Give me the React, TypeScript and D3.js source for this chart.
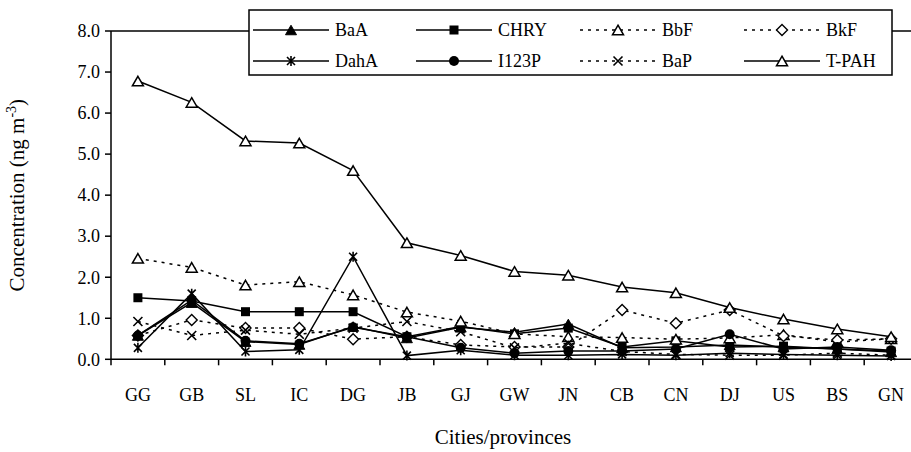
import React from "react";
import * as d3 from "d3";

// Sampling sites along the horizontal axis
const categories = ["GG", "GB", "SL", "IC", "DG", "JB", "GJ", "GW", "JN", "CB", "CN", "DJ", "US", "BS", "GN"];

// Concentrations, ng m-3
const baA = [0.58, 1.38, 0.43, 0.36, 0.8, 0.52, 0.78, 0.66, 0.86, 0.28, 0.3, 0.35, 0.3, 0.25, 0.18];
const chry = [1.5, 1.42, 1.16, 1.16, 1.16, 0.55, 0.8, 0.62, 0.76, 0.3, 0.45, 0.3, 0.32, 0.25, 0.2];
const bbF = [2.46, 2.24, 1.81, 1.89, 1.57, 1.15, 0.93, 0.62, 0.55, 0.53, 0.49, 0.52, 0.6, 0.42, 0.5];
const bkF = [0.58, 0.96, 0.76, 0.76, 0.49, 0.55, 0.35, 0.3, 0.3, 1.2, 0.88, 1.2, 0.57, 0.47, 0.5];
const dahA = [0.28, 1.6, 0.19, 0.23, 2.5, 0.09, 0.22, 0.1, 0.1, 0.12, 0.1, 0.15, 0.12, 0.1, 0.08];
const i123P = [0.58, 1.44, 0.45, 0.38, 0.78, 0.55, 0.28, 0.15, 0.2, 0.2, 0.25, 0.61, 0.25, 0.3, 0.22];
const baP = [0.92, 0.58, 0.71, 0.61, 0.76, 0.92, 0.67, 0.28, 0.39, 0.19, 0.12, 0.1, 0.1, 0.15, 0.1];
const tPAH = [6.78, 6.26, 5.32, 5.27, 4.6, 2.84, 2.53, 2.14, 2.05, 1.76, 1.62, 1.26, 0.98, 0.74, 0.55];

const yTickValues = [0, 1, 2, 3, 4, 5, 6, 7, 8];

type Marker = "triFill" | "square" | "triOpen" | "diamond" | "star" | "circle" | "cross";

const series: { name: string; values: number[]; dotted: boolean; marker: Marker }[] = [
  { name: "BaA", values: baA, dotted: false, marker: "triFill" },
  { name: "CHRY", values: chry, dotted: false, marker: "square" },
  { name: "BbF", values: bbF, dotted: true, marker: "triOpen" },
  { name: "BkF", values: bkF, dotted: true, marker: "diamond" },
  { name: "DahA", values: dahA, dotted: false, marker: "star" },
  { name: "I123P", values: i123P, dotted: false, marker: "circle" },
  { name: "BaP", values: baP, dotted: true, marker: "cross" },
  { name: "T-PAH", values: tPAH, dotted: false, marker: "triOpen" },
];

const W = 911;
const H = 452;
const plotLeft = 111;
const bandStep = 53.8;
const plotTop = 31;
const plotBottom = 359.3;
const FONT = "'Liberation Serif', 'Times New Roman', serif";

function MarkerShape({ kind, cx, cy }: { kind: Marker; cx: number; cy: number }) {
  const t = `translate(${cx},${cy})`;
  switch (kind) {
    case "triFill":
    case "triOpen": {
      const s = 11;
      const h = s * 0.866;
      const d = `M0,${-h / 2}L${s / 2},${h / 2}L${-s / 2},${h / 2}Z`;
      return kind === "triFill" ? (
        <path d={d} transform={t} fill="#000" stroke="#000" strokeWidth={1} />
      ) : (
        <path d={d} transform={t} fill="#fff" stroke="#000" strokeWidth={1.5} strokeLinejoin="miter" />
      );
    }
    case "square":
      return <rect x={cx - 4.5} y={cy - 4.5} width={9} height={9} fill="#000" />;
    case "circle":
      return <circle cx={cx} cy={cy} r={5} fill="#000" />;
    case "diamond": {
      const r = 5.5;
      return (
        <path d={`M0,${-r}L${r},0L0,${r}L${-r},0Z`} transform={t} fill="#fff" stroke="#000" strokeWidth={1.4} />
      );
    }
    case "cross": {
      const r = 4.5;
      return (
        <path d={`M${-r},${-r}L${r},${r}M${-r},${r}L${r},${-r}`} transform={t} stroke="#000" strokeWidth={1.6} fill="none" />
      );
    }
    case "star": {
      const r = 4;
      return (
        <path
          d={`M${-r},${-r}L${r},${r}M${-r},${r}L${r},${-r}M0,${-r - 1}L0,${r + 1}`}
          transform={t}
          stroke="#000"
          strokeWidth={1.6}
          fill="none"
        />
      );
    }
  }
  return null;
}

export default function App() {
  const x = d3
    .scaleBand<string>()
    .domain(categories)
    .range([plotLeft, plotLeft + bandStep * categories.length]);
  const y = d3.scaleLinear().domain([0, 8]).range([plotBottom, plotTop]);
  const cx = (i: number) => (x(categories[i]) as number) + x.bandwidth() / 2;

  const line = d3
    .line<number>()
    .x((_, i) => cx(i))
    .y((d) => y(d));

  const bandEdges = categories.map((c) => x(c) as number).concat([plotLeft + bandStep * categories.length]);

  // Legend geometry
  const legendX = 249;
  const legendY = 10;
  const legendW = 643;
  const legendH = 65;
  const colStarts = [253, 416, 580, 744];
  const rowYs = [30, 61];
  const sampleLen = 76;

  return (
    <svg
      width={W}
      height={H}
      viewBox={`0 0 ${W} ${H}`}
      style={{ position: "fixed", left: 0, top: 0, background: "#fff" }}
      fontFamily={FONT}
    >
      <rect x={0} y={0} width={W} height={H} fill="#fff" />

      {/* top frame line at 8.0 */}
      <line x1={plotLeft} x2={W} y1={y(8)} y2={y(8)} stroke="#000" strokeWidth={1.5} />

      {/* y axis */}
      <line x1={plotLeft} x2={plotLeft} y1={y(8)} y2={y(0)} stroke="#000" strokeWidth={1.5} />
      {yTickValues.map((v) => (
        <g key={v}>
          <line x1={plotLeft - 6} x2={plotLeft} y1={y(v)} y2={y(v)} stroke="#000" strokeWidth={1.5} />
          <text x={plotLeft - 11} y={y(v)} dy="0.35em" textAnchor="end" fontSize={18}>
            {v.toFixed(1)}
          </text>
        </g>
      ))}

      {/* x axis */}
      <line x1={plotLeft} x2={W} y1={y(0)} y2={y(0)} stroke="#000" strokeWidth={1.5} />
      {bandEdges.map((e, i) => (
        <line key={i} x1={e} x2={e} y1={y(0)} y2={y(0) + 6} stroke="#000" strokeWidth={1.5} />
      ))}
      {categories.map((c, i) => (
        <text key={c} x={cx(i)} y={401} textAnchor="middle" fontSize={18}>
          {c}
        </text>
      ))}

      {/* axis titles */}
      <text x={503} y={444} textAnchor="middle" fontSize={21}>
        Cities/provinces
      </text>
      <text transform={`translate(24,${(y(0) + y(8)) / 2}) rotate(-90)`} textAnchor="middle" fontSize={21}>
        Concentration (ng m
        <tspan dy={-8} fontSize={14}>
          -3
        </tspan>
        <tspan dy={8}>)</tspan>
      </text>

      {/* series */}
      {series.map((s) => (
        <g key={s.name}>
          <path
            d={line(s.values) as string}
            fill="none"
            stroke="#000"
            strokeWidth={1.5}
            strokeDasharray={s.dotted ? "3,5" : undefined}
          />
          {s.values.map((v, i) => (
            <MarkerShape key={i} kind={s.marker} cx={cx(i)} cy={y(v)} />
          ))}
        </g>
      ))}

      {/* legend */}
      <rect x={legendX} y={legendY} width={legendW} height={legendH} fill="#fff" stroke="#000" strokeWidth={1.5} />
      {series.map((s, k) => {
        const col = k % 4;
        const row = Math.floor(k / 4);
        const x0 = colStarts[col];
        const yy = rowYs[row];
        return (
          <g key={s.name}>
            <line
              x1={x0}
              x2={x0 + sampleLen}
              y1={yy}
              y2={yy}
              stroke="#000"
              strokeWidth={1.5}
              strokeDasharray={s.dotted ? "3,5" : undefined}
            />
            <MarkerShape kind={s.marker} cx={x0 + sampleLen / 2} cy={yy} />
            <text x={x0 + sampleLen + 6} y={yy} dy="0.35em" fontSize={18}>
              {s.name}
            </text>
          </g>
        );
      })}
    </svg>
  );
}
